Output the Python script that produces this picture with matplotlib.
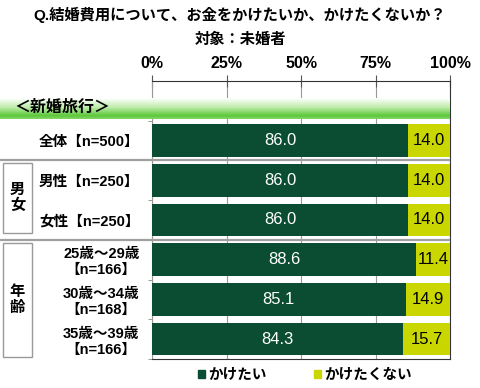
import numpy as np
import matplotlib
matplotlib.use("Agg")
import matplotlib.pyplot as plt
import matplotlib.transforms as mtrans
from matplotlib.colors import LinearSegmentedColormap
from matplotlib.patches import Rectangle, Patch
from matplotlib.lines import Line2D

plt.rcParams['font.family'] = ['Liberation Sans', 'Noto Sans CJK JP', 'DejaVu Sans']

cats = ['全体【n=500】', '男性【n=250】', '女性【n=250】',
        '25歳～29歳\n【n=166】', '30歳～34歳\n【n=168】', '35歳～39歳\n【n=166】']
want = [86.0, 86.0, 86.0, 88.6, 85.1, 84.3]
not_want = [14.0, 14.0, 14.0, 11.4, 14.9, 15.7]
xticks = [0, 25, 50, 75, 100]
series = ['かけたい', 'かけたくない']
dark = '#0A4D33'
lime = '#C9D600'

fig = plt.figure(figsize=(4.8, 3.88), dpi=100)
ax = fig.add_axes([152/480, 1-359/388, 298/480, 278/388])

ypos = np.arange(len(cats)) + 1.5
ax.barh(ypos, want, height=0.82, color=dark, zorder=3)
ax.barh(ypos, not_want, left=want, height=0.82, color=lime, zorder=3)

for y, a, b in zip(ypos, want, not_want):
    ax.text(a/2, y, f"{a:.1f}", ha='center', va='center', color='white', fontsize=12, zorder=4)
    ax.text(a + b/2, y, f"{b:.1f}", ha='center', va='center', color='black', fontsize=12, zorder=4)

ax.set_xlim(0, 100)
ax.set_ylim(7, 0)
ax.xaxis.tick_top()
ax.set_xticks(xticks)
ax.set_xticklabels([f"{t}%" for t in xticks], fontsize=11.5, fontweight='bold')
ax.tick_params(axis='x', direction='inout', length=8, pad=3, width=0.8, color='#555555')
ax.set_yticks(ypos)
ax.set_yticklabels(cats, fontsize=10.5, fontweight='bold', multialignment='center')
ax.tick_params(axis='y', length=0, pad=9)
ax.set_yticks(np.arange(1, 8), minor=True)
ax.tick_params(axis='y', which='minor', length=3, color='#888888')
ax.grid(axis='x', color='#999999', lw=0.8, zorder=0)
for s in ['top', 'right', 'bottom']:
    ax.spines[s].set_color('#333333')
ax.spines['left'].set_color('#999999')

# header band
bax = fig.add_axes([0, 1-119/388, 450/480, 21/388])
cmap = LinearSegmentedColormap.from_list('band', [(0, 'white'), (0.45, '#BDEBA8'), (0.85, '#5CC83A'), (1.0, '#86D764')])
bax.imshow(np.linspace(0, 1, 64).reshape(-1, 1), aspect='auto', cmap=cmap, extent=(0, 1, 0, 1))
bax.set_axis_off()
fig.text(14/480, 1-107/388, '＜新婚旅行＞', fontsize=11.5, fontweight='bold', va='center')

# group separators and boxes
tr = mtrans.blended_transform_factory(fig.transFigure, ax.transData)
for yb in [2, 4]:
    ax.add_line(Line2D([0, 449/480], [yb, yb], transform=tr, color='#A0A0A0', lw=1.6, clip_on=False, zorder=5))
for (y0, y1, lab) in [(2.07, 3.83, '男\n女'), (4.08, 6.95, '年\n齢')]:
    ax.add_patch(Rectangle((3/480, y0), 29/480, y1-y0, transform=tr, fill=False, ec='#999999', lw=1, clip_on=False))
    ax.text(17.5/480, (y0+y1)/2, lab, transform=tr, ha='center', va='center', fontsize=11,
            fontweight='bold', linespacing=1.1)

fig.text(0.5, 1-15/388, 'Q.結婚費用について、お金をかけたいか、かけたくないか？', ha='center', va='center',
         fontsize=11, fontweight='bold')
fig.text(0.5, 1-40/388, '対象：未婚者', ha='center', va='center', fontsize=11, fontweight='bold')

handles = [Patch(color=dark), Patch(color=lime)]
fig.legend(handles, series, loc='center', bbox_to_anchor=(305/480, 1-375/388), ncol=2, frameon=False,
           handlelength=0.5, handleheight=0.5, handletextpad=0.25, columnspacing=3.2,
           prop={'size': 10.5, 'weight': 'bold'})

fig.savefig('out.png', dpi=100)
